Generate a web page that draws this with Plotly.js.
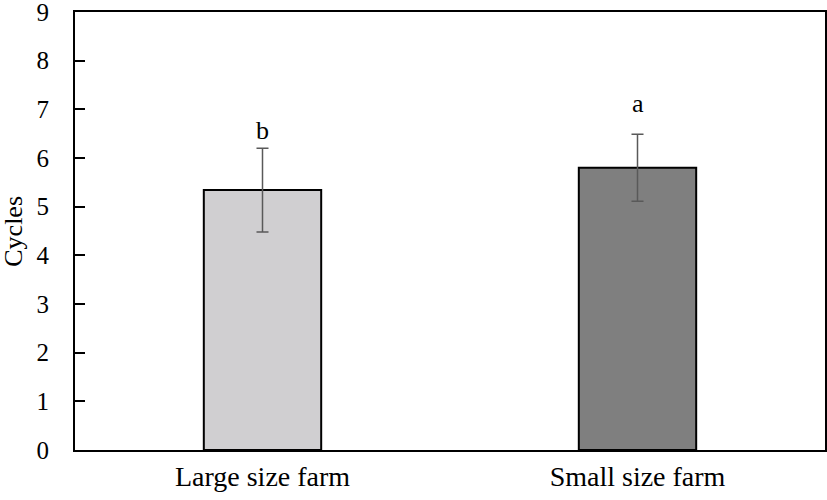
<!DOCTYPE html>
<html>
<head>
<meta charset="utf-8">
<script src="https://cdn.plot.ly/plotly-3.0.1.min.js"></script>
<style>html,body{margin:0;padding:0;background:#fff;}#chart{width:827px;height:500px;}</style>
</head>
<body>
<div id="chart"></div>
<script>
const categories = ["Large size farm", "Small size farm"];
const means = [5.34, 5.80];
const errors = [0.86, 0.69];
const letters = ["b", "a"];
const letterY = [6.57, 7.13];
const barColors = ["#d0cfd1", "#7f7f7f"];
const yTicks = [0, 1, 2, 3, 4, 5, 6, 7, 8, 9];
const yTitle = "Cycles";

const FONT = "Liberation Serif, Times New Roman, serif";

const trace = {
  type: "bar",
  x: categories,
  y: means,
  width: 0.313,
  marker: { color: barColors, line: { color: "#000", width: 2 } },
  error_y: { type: "data", array: errors, visible: true, color: "#595959", thickness: 1.5, width: 6 },
  hoverinfo: "none"
};

const annotations = categories.map((c, i) => ({
  x: c, y: letterY[i], xref: "x", yref: "y",
  text: letters[i], showarrow: false,
  yanchor: "middle", xanchor: "center",
  font: { family: FONT, size: 26, color: "#000" }
}));
annotations.push({
  xref: "paper", yref: "paper", x: -0.083, y: 0.5,
  xanchor: "center", yanchor: "middle", textangle: -90,
  text: yTitle, showarrow: false,
  font: { family: FONT, size: 26, color: "#000" }
});

const layout = {
  width: 827, height: 500,
  margin: { l: 75, r: 2, t: 12, b: 50 },
  paper_bgcolor: "#fff", plot_bgcolor: "#fff",
  showlegend: false,
  font: { family: FONT, color: "#000" },
  xaxis: {
    type: "category",
    range: [-0.5, 1.5],
    showline: true, linecolor: "#000", linewidth: 2, mirror: true,
    ticks: "", showgrid: false, zeroline: false,
    tickfont: { family: FONT, size: 28, color: "#000" }
  },
  yaxis: {
    range: [0, 9],
    tickvals: yTicks,
    ticktext: yTicks.map(String),
    ticks: "inside", ticklen: 10, tickwidth: 2, tickcolor: "#000",
    ticklabelstandoff: 19,
    ticklabeloverflow: "allow",
    showline: true, linecolor: "#000", linewidth: 2, mirror: true,
    showgrid: false, zeroline: false,
    tickfont: { family: FONT, size: 25, color: "#000" }
  },
  annotations: annotations
};

Plotly.newPlot("chart", [trace], layout, { staticPlot: true, displayModeBar: false });
</script>
</body>
</html>
